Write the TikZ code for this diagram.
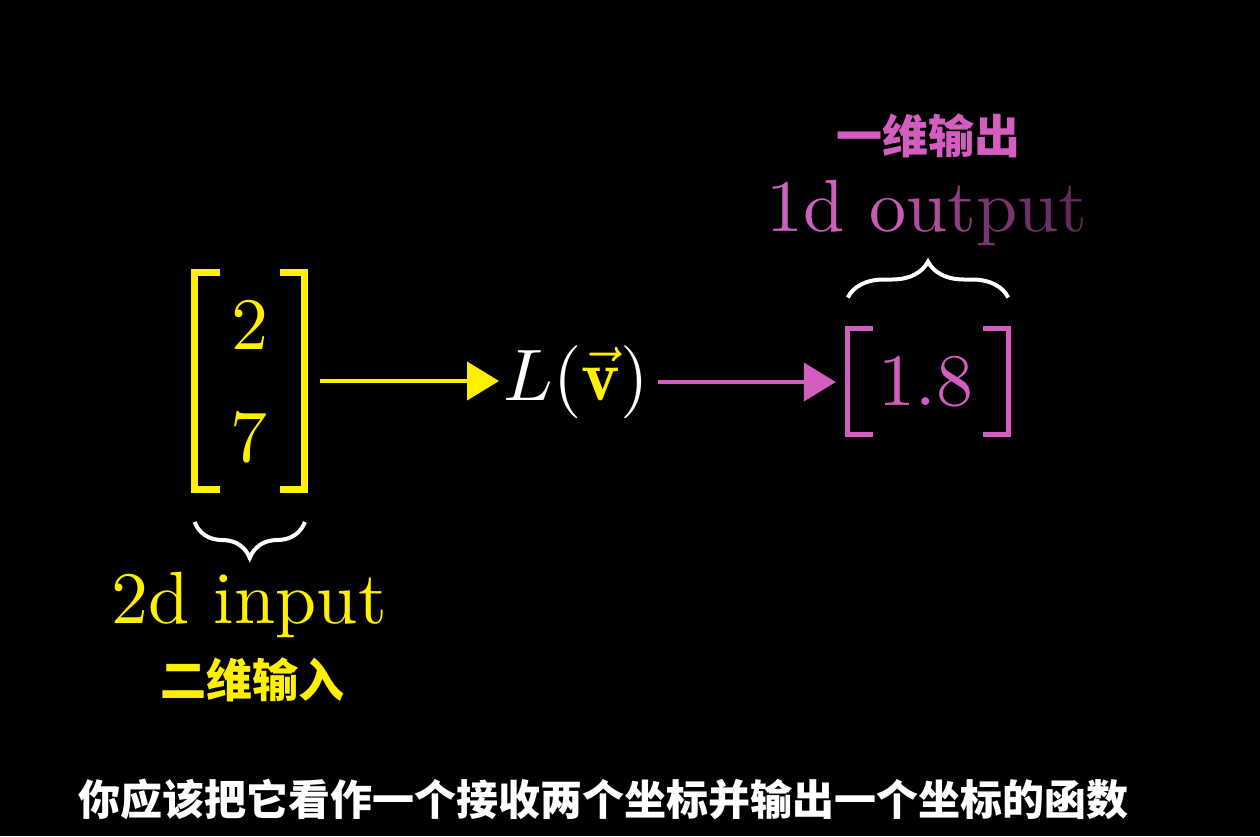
\documentclass[tikz,border=0pt]{standalone}
\usepackage{fontspec}
\usepackage{pdfrender}
\usetikzlibrary{arrows.meta,decorations.pathreplacing}
\newfontfamily\cjk{Noto Sans CJK SC}
\definecolor{myyellow}{HTML}{FFF000}
\definecolor{mypink}{HTML}{D35EC0}
\definecolor{subnavy}{HTML}{1C1C5C}
\definecolor{pa}{HTML}{D060BE}
\definecolor{pb}{HTML}{C85AB5}
\definecolor{pc}{HTML}{B04E9E}
\definecolor{pd}{HTML}{904080}
\definecolor{pe}{HTML}{7A3570}
\definecolor{pf}{HTML}{6E3066}
\definecolor{pg}{HTML}{62295A}
\tikzset{
  bigtext/.style={inner sep=0pt, scale=7.4},
  cjklabel/.style={inner sep=0pt, font=\cjk\bfseries\fontsize{46}{50}\selectfont},
  ybracket/.style={draw=myyellow, line width=7pt},
  pbracket/.style={draw=mypink, line width=5pt},
  wbrace/.style={draw=white, line width=4pt, decorate},
  yarrow/.style={draw=myyellow, line width=4pt, -{Triangle[length=32pt,width=38pt]}},
  parrow/.style={draw=mypink, line width=4pt, -{Triangle[length=32pt,width=38pt]}},
}
\begin{document}
\begin{tikzpicture}[x=1pt,y=-1pt]
\fill[black] (0,0) rectangle (1260,836);
\useasboundingbox (0,0) rectangle (1260,836);

% input vector
\node[minimum width=110pt, minimum height=217pt, inner sep=0pt] (inv) at (249.75,381) {};
\draw[ybracket] ([xshift=25pt]inv.north west) -- (inv.north west) -- (inv.south west) -- ([xshift=25pt]inv.south west);
\draw[ybracket] ([xshift=-25pt]inv.north east) -- (inv.north east) -- (inv.south east) -- ([xshift=-25pt]inv.south east);
\node[bigtext, text=myyellow] (two) at (250,325) {2};
\node[bigtext, text=myyellow] (seven) at (249,437) {7};

% function
\node[inner sep=0pt, scale=7.3, text=white] (Lv) at (576,382) {$L(\textcolor{myyellow}{\vec{\mathbf{v}}})$};

% output vector
\node[minimum width=160pt, minimum height=106pt, inner sep=0pt] (outv) at (928,381.5) {};
\draw[pbracket] ([xshift=25pt]outv.north west) -- (outv.north west) -- (outv.south west) -- ([xshift=25pt]outv.south west);
\draw[pbracket] ([xshift=-25pt]outv.north east) -- (outv.north east) -- (outv.south east) -- ([xshift=-25pt]outv.south east);
\node[bigtext, text=mypink] (val) at (926,382) {1.8};

% arrows
\draw[yarrow, shorten <=15pt, shorten >=3pt] (inv.east) -- (inv.east -| Lv.west);
\draw[parrow, shorten <=8pt, shorten >=12pt] (Lv.east) -- (Lv.east -| outv.west);

% braces
\draw[wbrace, decoration={brace, amplitude=36pt, mirror}] ([yshift=-141pt]inv.west) -- ([yshift=-141pt]inv.east);
\draw[wbrace, decoration={brace, amplitude=36pt}] ([yshift=84pt]outv.west) -- ([yshift=84pt]outv.east);

% labels
\node[bigtext, text=myyellow, anchor=base] (inlab) at (249,623) {2d input};
\node[cjklabel, text=myyellow] (incn) at (252,680) {二维输入};
\node[bigtext, anchor=base] (outlab) at (927,231) {\textcolor{pa}{1d} \textcolor{pb}{o}\textcolor{pc}{u}\textcolor{pd}{t}\textcolor{pe}{p}\textcolor{pf}{u}\textcolor{pg}{t}};
\node[cjklabel, text=mypink] (outcn) at (928,136) {一维输出};

% subtitle
\node[inner sep=0pt, text=white, font=\cjk\bfseries\fontsize{42}{46}\selectfont] (sub) at (603,799)
  {\special{pdf:literal 0.11 0.11 0.36 RG}\textpdfrender{TextRenderingMode=FillStroke,LineWidth=5,LineJoin=1}{你应该把它看作一个接收两个坐标并输出一个坐标的函数}};
\end{tikzpicture}
\end{document}
